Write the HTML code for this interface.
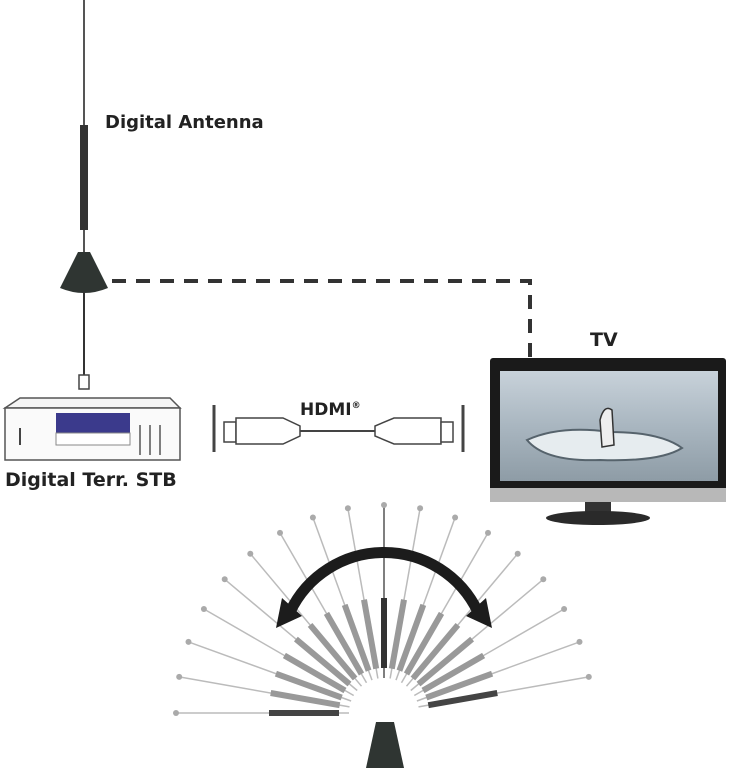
<!DOCTYPE html>
<html><head><meta charset="utf-8"><style>
body{margin:0;background:#fff;}
svg{display:block;}
text{font-family:"DejaVu Sans","Liberation Sans",sans-serif;font-weight:bold;fill:#222;}
</style></head><body>
<svg width="733" height="768" viewBox="0 0 733 768" xmlns="http://www.w3.org/2000/svg">
<defs>
<linearGradient id="scr" x1="0" y1="0" x2="0" y2="1">
<stop offset="0" stop-color="#c8d2da"/><stop offset="0.5" stop-color="#a9b6c0"/><stop offset="1" stop-color="#8e9ca6"/>
</linearGradient>
</defs>
<line x1="84" y1="0" x2="84" y2="255" stroke="#555" stroke-width="2"/>
<rect x="80" y="125" width="8" height="105" fill="#333"/>
<path d="M78 252 L90 252 L108 288 Q84 298 60 288 Z" fill="#2f3532"/>
<line x1="84" y1="292" x2="84" y2="375" stroke="#333" stroke-width="2"/>
<rect x="79" y="375" width="10" height="14" fill="#fff" stroke="#444" stroke-width="1.5"/>
<text x="105" y="128" font-size="18">Digital Antenna</text>
<path d="M112 281 H530 V360" fill="none" stroke="#333" stroke-width="4" stroke-dasharray="14,10"/>
<path d="M5 408 L20 398 L170 398 L180 408 Z" fill="#f4f4f4" stroke="#555" stroke-width="1.5"/>
<rect x="5" y="408" width="175" height="52" fill="#fafafa" stroke="#555" stroke-width="1.5"/>
<rect x="56" y="413" width="74" height="20" fill="#3b3a8c"/>
<rect x="56" y="433" width="74" height="12" fill="#fff" stroke="#888"/>
<line x1="20" y1="428" x2="20" y2="445" stroke="#444" stroke-width="2"/>
<line x1="140" y1="425" x2="140" y2="455" stroke="#555" stroke-width="1.5"/>
<line x1="150" y1="425" x2="150" y2="455" stroke="#555" stroke-width="1.5"/>
<line x1="160" y1="425" x2="160" y2="455" stroke="#555" stroke-width="1.5"/>
<text x="5" y="486" font-size="19">Digital Terr. STB</text>
<line x1="214" y1="405" x2="214" y2="452" stroke="#444" stroke-width="3"/>
<line x1="463" y1="405" x2="463" y2="452" stroke="#444" stroke-width="3"/>
<rect x="224" y="422" width="12" height="20" fill="#fff" stroke="#444" stroke-width="1.5"/>
<path d="M236 418 H283 L300 426 V436 L283 444 H236 Z" fill="#fff" stroke="#444" stroke-width="1.5"/>
<line x1="300" y1="431" x2="375" y2="431" stroke="#444" stroke-width="2"/>
<path d="M441 418 H394 L375 426 V436 L394 444 H441 Z" fill="#fff" stroke="#444" stroke-width="1.5"/>
<rect x="441" y="422" width="12" height="20" fill="#fff" stroke="#444" stroke-width="1.5"/>
<text x="300" y="415" font-size="17">HDMI<tspan font-size="9" dy="-7">®</tspan></text>
<text x="590" y="346" font-size="19">TV</text>
<rect x="490" y="358" width="236" height="140" rx="3" fill="#1a1a1a"/>
<rect x="500" y="371" width="218" height="110" fill="url(#scr)"/>
<path d="M527 440 Q560 425 610 432 Q660 432 682 448 Q660 462 600 460 Q545 462 527 440Z" fill="#e6ecef" stroke="#56636c" stroke-width="2"/>
<path d="M600 420 Q604 404 612 410 L614 445 L602 447 Z" fill="#eee" stroke="#333" stroke-width="1.5"/>
<rect x="490" y="488" width="236" height="14" fill="#b8b8b8"/>
<rect x="585" y="502" width="26" height="10" fill="#333"/>
<ellipse cx="598" cy="518" rx="52" ry="7" fill="#2a2a2a"/>
<g id="fan"></g>
<path d="M366 768 L376 722 L394 722 L404 768 Z" fill="#2f3532"/>
<path d="M290 612 A104 104 0 0 1 478 612" fill="none" stroke="#1c1c1c" stroke-width="11"/>
<polygon points="276,628 302,616 282,598" fill="#1c1c1c"/>
<polygon points="492,628 466,616 486,598" fill="#1c1c1c"/>
</svg>
<script>
(function(){
var g=document.getElementById('fan'),cx=384,cy=713,s='';
for(var i=0;i<18;i++){
var a=(180-i*10)*Math.PI/180,c=Math.cos(a),sn=-Math.sin(a);
var p=function(r){return [(cx+r*c).toFixed(1),(cy+r*sn).toFixed(1)];};
var mid=(i==9);
var A=p(35),B=p(208),C=p(45),D=p(115);
s+='<line x1="'+A[0]+'" y1="'+A[1]+'" x2="'+B[0]+'" y2="'+B[1]+'" stroke="'+(mid?'#555':'#bbb')+'" stroke-width="1.5"/>';
s+='<line x1="'+C[0]+'" y1="'+C[1]+'" x2="'+D[0]+'" y2="'+D[1]+'" stroke="'+(mid?'#333':(i==0||i==17?'#444':'#999'))+'" stroke-width="6"/>';
s+='<circle cx="'+B[0]+'" cy="'+B[1]+'" r="3" fill="#aaa"/>';
}
g.innerHTML=s;
})();
</script>
</body></html>
